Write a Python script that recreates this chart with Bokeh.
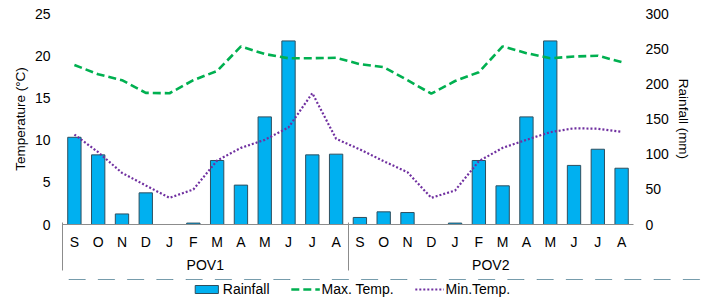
from bokeh.plotting import figure
from bokeh.layouts import column
from bokeh.models import Range1d, LinearAxis, FixedTicker, Legend, LegendItem
from bokeh.embed import file_html
from bokeh.resources import INLINE

months = ["S", "O", "N", "D", "J", "F", "M", "A", "M", "J", "J", "A"]
groups = ["POV1", "POV2"]
rain_pov1 = [124, 99, 15, 45, 0, 2, 91, 56, 153, 261, 99, 100]
rain_pov2 = [10, 18, 17, 0, 2, 91, 55, 153, 261, 84, 107, 80]
tmax_pov1 = [18.9, 17.8, 17.1, 15.6, 15.55, 17.1, 18.2, 21.1, 20.2, 19.7, 19.7, 19.75]
tmax_pov2 = [19.0, 18.65, 17.1, 15.5, 17.0, 18.05, 21.1, 20.3, 19.7, 19.9, 20.0, 19.25]
tmin_pov1 = [10.66, 8.57, 6.12, 4.62, 3.16, 4.15, 7.58, 9.08, 10.03, 11.5, 15.56, 10.15]
tmin_pov2 = [8.9, 7.5, 6.2, 3.16, 4.03, 7.5, 9.08, 10.03, 10.94, 11.4, 11.35, 10.98]
temp_ticks = [0, 5, 10, 15, 20, 25]
rain_ticks = [0, 50, 100, 150, 200, 250, 300]

labels = months + months
rain = rain_pov1 + rain_pov2
tmax = tmax_pov1 + tmax_pov2
tmin = tmin_pov1 + tmin_pov2
n = len(labels)
xs = list(range(n))
per = len(months)

FONT = "Liberation Sans"
FS = "14px"
AXIS_GRAY = "#8C8C8C"
BAR = dict(fill_color="#00B0F0", line_color="#2F4F5F", line_width=1)
MAXS = dict(line_color="#00B050", line_width=2.6, line_dash="8 4")
MINS = dict(line_color="#7030A0", line_width=2.2, line_dash="2 2")

p = figure(frame_width=571, frame_height=211, output_backend="svg", toolbar_location=None,
           x_range=Range1d(-0.5, n - 0.5), y_range=Range1d(0, 25),
           min_border_left=62, min_border_right=69, min_border_top=13,
           min_border_bottom=55)
p.extra_y_ranges = {"rain": Range1d(0, 300)}
p.outline_line_color = None
p.xgrid.visible = False
p.ygrid.visible = False

p.vbar(x=xs, top=rain, width=0.56, y_range_name="rain", **BAR)
p.line(xs, tmax, **MAXS)
p.line(xs, tmin, **MINS)


def style_labels(ax):
    ax.major_label_text_font = FONT
    ax.major_label_text_font_size = FS
    ax.major_label_text_color = "black"


def style_title(ax, text):
    ax.axis_label = text
    ax.axis_label_text_font = FONT
    ax.axis_label_text_font_size = "13.5px"
    ax.axis_label_text_font_style = "normal"
    ax.axis_label_text_color = "black"


# left axis
ya = p.yaxis[0]
ya.ticker = FixedTicker(ticks=temp_ticks)
ya.axis_line_color = None
ya.major_tick_line_color = None
ya.minor_tick_line_color = None
ya.major_tick_out = 0
ya.major_label_standoff = 12
style_labels(ya)
style_title(ya, "Temperature (°C)")
ya.axis_label_standoff = 4

# right axis
ra = LinearAxis(y_range_name="rain", ticker=FixedTicker(ticks=rain_ticks))
ra.axis_line_color = None
ra.major_tick_line_color = None
ra.minor_tick_line_color = None
ra.major_tick_out = 0
ra.major_label_standoff = 12
style_labels(ra)
style_title(ra, "Rainfall (mm)")
ra.axis_label_standoff = 4
p.add_layout(ra, "right")

# month axis
xa = p.xaxis[0]
xa.ticker = FixedTicker(ticks=xs, minor_ticks=[])
xa.major_label_overrides = {i: labels[i] for i in xs}
xa.axis_line_color = AXIS_GRAY
xa.axis_line_width = 1
xa.major_tick_line_color = None
xa.major_tick_out = 0
xa.major_tick_in = 0
xa.minor_tick_line_color = None
xa.major_label_standoff = 9
style_labels(xa)

# group label axis, its minor ticks are the group separators
centers = [(g * per + (g + 1) * per - 1) / 2 for g in range(len(groups))]
seps = [g * per - 0.5 for g in range(len(groups))]
ga = LinearAxis(ticker=FixedTicker(ticks=centers, minor_ticks=seps))
ga.major_label_overrides = {c: groups[i] for i, c in enumerate(centers)}
ga.axis_line_color = None
ga.major_tick_line_color = None
ga.major_tick_out = 0
ga.major_tick_in = 0
ga.minor_tick_line_color = AXIS_GRAY
ga.minor_tick_in = 30
ga.minor_tick_out = 18
ga.major_label_standoff = -14
style_labels(ga)
p.add_layout(ga, "below")

# legend strip: same series drawn outside its visible range, only the legend shows
q = figure(frame_width=702, frame_height=29, output_backend="svg", toolbar_location=None,
           x_axis_type=None, y_axis_type=None,
           x_range=Range1d(-0.5, n - 0.5), y_range=Range1d(-20, -10),
           min_border_left=0, min_border_right=0, min_border_top=0, min_border_bottom=0)
q.outline_line_color = None
q.xgrid.visible = False
q.ygrid.visible = False
rb = q.vbar(x=xs, top=rain, width=0.56, **BAR)
rx = q.line(xs, tmax, **MAXS)
rn = q.line(xs, tmin, **MINS)

legend = Legend(items=[
    LegendItem(label="Rainfall", renderers=[rb]),
    LegendItem(label="Max. Temp.", renderers=[rx]),
    LegendItem(label="Min.Temp.", renderers=[rn]),
], orientation="horizontal", location="top_center")
legend.label_text_font = FONT
legend.label_text_font_size = FS
legend.label_text_color = "black"
legend.glyph_width = 29
legend.glyph_height = 10
legend.label_standoff = 2
legend.spacing = 21
legend.padding = 0
legend.margin = 2
legend.border_line_color = None
legend.background_fill_alpha = 0
legend.label_height = 12
q.add_layout(legend)

layout = column(p, q, spacing=0)
open("out.html", "w").write(file_html(layout, INLINE))
